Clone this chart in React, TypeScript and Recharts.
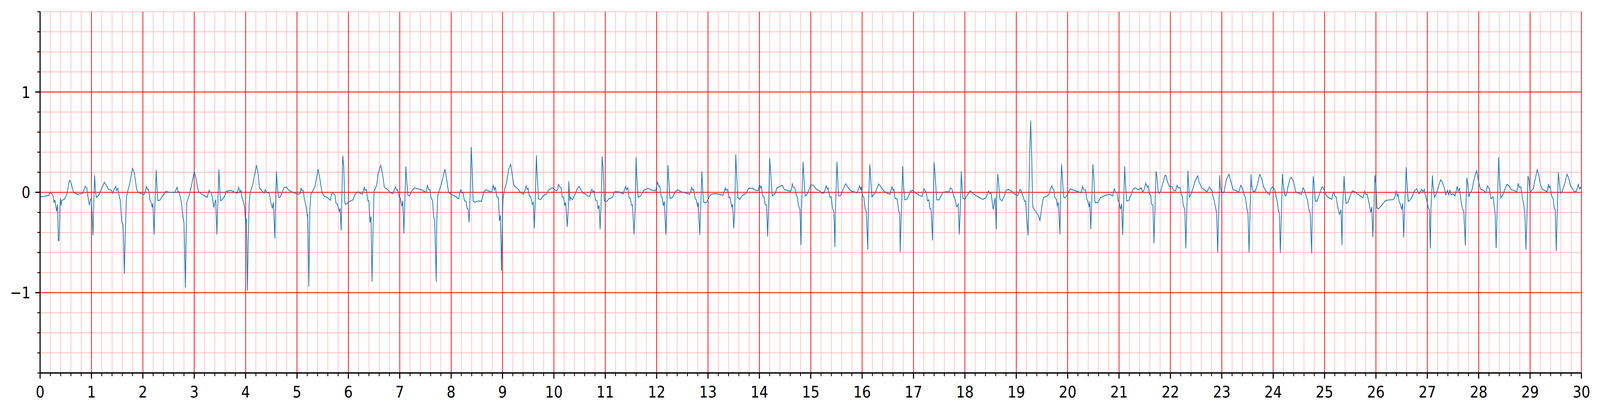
import { LineChart, Line, XAxis, YAxis, CartesianGrid } from 'recharts';

// ECG trace, [seconds, mV] in 5 s chunks
const ecg00to05: [number, number][] = [
  [0, -0.045], [0.08, -0.04], [0.17, -0.03], [0.19, 0.0], [0.22, -0.01], [0.25, -0.03], [0.27, -0.1], [0.29, -0.08],
  [0.32, -0.19], [0.34, -0.12], [0.355, -0.48], [0.37, -0.48], [0.385, -0.15], [0.395, -0.06], [0.41, -0.13], [0.42, -0.08],
  [0.47, -0.07], [0.52, -0.02], [0.57, 0.12], [0.6, 0.1], [0.65, 0.0], [0.73, -0.02], [0.83, -0.01], [0.88, 0.06],
  [0.91, 0.04], [0.93, -0.04], [0.96, -0.13], [0.98, -0.07], [1.0, -0.07], [1.03, -0.43], [1.045, -0.1], [1.06, 0.17],
  [1.08, 0.0], [1.095, -0.05], [1.14, -0.03], [1.19, 0.03], [1.25, 0.1], [1.29, 0.07], [1.33, 0.03], [1.39, 0.02],
  [1.41, -0.01], [1.44, 0.03], [1.47, 0.06], [1.49, 0.02], [1.51, 0.04], [1.53, -0.01], [1.56, -0.08], [1.59, -0.3],
  [1.615, -0.32], [1.64, -0.81], [1.655, -0.45], [1.68, -0.05], [1.7, 0.0], [1.74, 0.08], [1.8, 0.24], [1.83, 0.2],
  [1.88, 0.03], [1.91, 0.0], [2.0, -0.02], [2.03, -0.02], [2.07, 0.06], [2.09, 0.03], [2.11, 0.03], [2.14, -0.08],
  [2.16, -0.1], [2.18, -0.15], [2.195, -0.11], [2.22, -0.42], [2.235, -0.1], [2.26, 0.22], [2.275, 0.05], [2.29, -0.08],
  [2.33, -0.08], [2.38, -0.04], [2.45, 0.01], [2.51, 0.0], [2.58, 0.0], [2.62, 0.0], [2.665, 0.05], [2.68, 0.0],
  [2.7, 0.01], [2.73, -0.05], [2.75, -0.1], [2.78, -0.25], [2.8, -0.3], [2.83, -0.95], [2.84, -0.5], [2.855, -0.1],
  [2.89, -0.05], [2.94, 0.05], [3.0, 0.21], [3.03, 0.15], [3.08, 0.01], [3.15, -0.02], [3.25, -0.05], [3.29, 0.02],
  [3.31, 0.0], [3.33, 0.0], [3.36, -0.07], [3.38, -0.15], [3.4, -0.1], [3.42, -0.08], [3.44, -0.42], [3.46, -0.1],
  [3.48, 0.23], [3.495, 0.05], [3.51, -0.08], [3.53, -0.08], [3.59, -0.04], [3.62, 0.01], [3.72, 0.02], [3.79, 0.0],
  [3.835, -0.01], [3.865, 0.05], [3.89, 0.0], [3.91, 0.02], [3.93, -0.05], [3.96, -0.1], [3.98, -0.15], [4.0, -0.32],
  [4.015, -0.26], [4.035, -0.98], [4.05, -0.5], [4.07, -0.1], [4.09, 0.0], [4.14, 0.08], [4.21, 0.27], [4.24, 0.2],
  [4.27, 0.045], [4.31, 0.02], [4.36, -0.01], [4.38, 0.025], [4.41, 0.0], [4.46, -0.01], [4.48, -0.06], [4.49, -0.1],
  [4.52, -0.16], [4.54, -0.1], [4.57, -0.46], [4.58, -0.17], [4.6, 0.21], [4.62, 0.045], [4.64, -0.05], [4.67, -0.05],
  [4.7, -0.015], [4.75, 0.05], [4.8, 0.05], [4.83, 0.025], [4.9, 0.005], [4.96, -0.01],
];

const ecg05to10: [number, number][] = [
  [5.03, -0.02], [5.06, -0.01], [5.08, 0.045], [5.09, 0.02], [5.12, 0.02], [5.14, -0.055], [5.18, -0.15], [5.2, -0.24],
  [5.21, -0.22], [5.23, -0.94], [5.25, -0.17], [5.27, -0.02], [5.3, 0.01], [5.35, 0.06], [5.41, 0.23], [5.44, 0.15],
  [5.49, -0.01], [5.53, -0.035], [5.6, -0.055], [5.65, -0.08], [5.67, -0.02], [5.69, 0.0], [5.74, -0.03], [5.76, -0.11],
  [5.79, -0.12], [5.82, -0.19], [5.84, -0.16], [5.86, -0.38], [5.87, -0.12], [5.89, 0.365], [5.91, 0.26], [5.93, -0.1],
  [5.95, -0.12], [6.02, -0.09], [6.09, -0.075], [6.13, -0.02], [6.19, 0.005], [6.23, -0.01], [6.27, -0.02], [6.31, 0.055],
  [6.32, 0.02], [6.35, 0.03], [6.38, -0.085], [6.4, -0.085], [6.42, -0.3], [6.44, -0.24], [6.46, -0.89], [6.48, -0.37],
  [6.5, 0.01], [6.55, 0.07], [6.58, 0.19], [6.63, 0.27], [6.66, 0.2], [6.7, 0.05], [6.76, 0.03], [6.81, 0.0],
  [6.86, -0.015], [6.89, 0.02], [6.92, 0.055], [6.94, 0.02], [6.96, 0.025], [6.99, -0.05], [7.01, -0.055], [7.04, -0.14],
  [7.06, -0.085], [7.08, -0.41], [7.09, -0.24], [7.12, 0.26], [7.13, 0.15], [7.16, -0.03], [7.19, -0.035], [7.24, 0.02],
  [7.29, 0.045], [7.35, 0.035], [7.42, 0.025], [7.51, 0.0], [7.54, 0.07], [7.56, 0.03], [7.59, 0.025], [7.61, -0.055],
  [7.64, -0.085], [7.66, -0.25], [7.68, -0.28], [7.71, -0.89], [7.72, -0.3], [7.74, -0.035], [7.77, 0.02], [7.81, 0.085],
  [7.88, 0.23], [7.91, 0.14], [7.95, 0.0], [8.0, -0.02], [8.08, -0.04], [8.15, -0.065], [8.17, 0.005], [8.19, 0.025],
  [8.21, -0.005], [8.23, 0.0], [8.26, -0.085], [8.29, -0.09], [8.31, -0.16], [8.33, -0.165], [8.35, -0.3], [8.37, -0.035],
  [8.39, 0.45], [8.41, 0.23], [8.43, -0.085], [8.47, -0.1], [8.53, -0.085], [8.59, -0.09], [8.64, 0.01], [8.68, 0.025],
  [8.75, 0.01], [8.79, 0.0], [8.82, 0.07], [8.84, 0.025], [8.86, 0.05], [8.89, -0.045], [8.92, -0.05], [8.94, -0.285],
  [8.96, -0.23], [8.98, -0.78], [9.0, -0.22], [9.01, -0.065], [9.04, 0.03], [9.08, 0.1], [9.12, 0.23], [9.16, 0.28],
  [9.19, 0.17], [9.22, 0.07], [9.29, 0.04], [9.35, 0.0], [9.41, -0.02], [9.44, 0.03], [9.46, 0.065], [9.48, 0.03],
  [9.5, 0.04], [9.52, -0.035], [9.55, -0.045], [9.58, -0.12], [9.6, -0.1], [9.62, -0.36], [9.64, -0.035], [9.66, 0.37],
  [9.67, 0.23], [9.7, -0.065], [9.74, -0.075], [9.79, -0.035], [9.85, -0.02], [9.9, 0.025], [9.97, 0.045],
];

const ecg10to15: [number, number][] = [
  [10.04, 0.015], [10.07, 0.02], [10.09, 0.08], [10.12, 0.05], [10.14, 0.045], [10.16, -0.045], [10.19, -0.05], [10.21, -0.135],
  [10.23, -0.1], [10.26, -0.345], [10.28, -0.155], [10.29, 0.11], [10.31, -0.085], [10.32, -0.05], [10.36, -0.075], [10.4, -0.035],
  [10.45, 0.03], [10.49, 0.06], [10.52, 0.03], [10.57, -0.01], [10.61, -0.015], [10.65, -0.035], [10.7, -0.04], [10.72, 0.01],
  [10.74, 0.03], [10.76, 0.0], [10.78, 0.015], [10.81, -0.075], [10.84, -0.085], [10.86, -0.165], [10.88, -0.13], [10.9, -0.37],
  [10.92, -0.1], [10.94, 0.36], [10.96, 0.23], [10.98, -0.085], [11.03, -0.09], [11.07, -0.065], [11.14, -0.05], [11.18, 0.005],
  [11.26, 0.005], [11.35, -0.015], [11.38, 0.04], [11.4, 0.06], [11.41, 0.025], [11.44, 0.045], [11.46, -0.05], [11.49, -0.065],
  [11.51, -0.13], [11.53, -0.125], [11.56, -0.42], [11.58, -0.17], [11.6, 0.35], [11.61, 0.2], [11.64, -0.05], [11.69, -0.035],
  [11.75, 0.02], [11.83, 0.04], [11.91, 0.02], [11.98, 0.015], [12.0, 0.065], [12.02, 0.1], [12.04, 0.06], [12.06, 0.06],
  [12.09, -0.045], [12.11, -0.055], [12.13, -0.135], [12.15, -0.09], [12.18, -0.42], [12.2, -0.115], [12.22, 0.27], [12.23, 0.18],
  [12.26, -0.06], [12.31, -0.05], [12.36, 0.005], [12.41, 0.025], [12.48, 0.005], [12.56, -0.005], [12.64, -0.02], [12.67, 0.02],
  [12.68, 0.05], [12.7, 0.02], [12.72, 0.03], [12.75, -0.06], [12.77, -0.075], [12.8, -0.145], [12.81, -0.1], [12.84, -0.425],
  [12.86, -0.115], [12.88, 0.21], [12.89, 0.1], [12.91, -0.095], [12.96, -0.105], [13.0, -0.075], [13.03, -0.035], [13.09, -0.015],
  [13.18, -0.015], [13.29, -0.03], [13.32, 0.015], [13.34, 0.045], [13.35, 0.02], [13.38, 0.03], [13.41, -0.055], [13.43, -0.05],
  [13.46, -0.145], [13.48, -0.12], [13.5, -0.36], [13.52, -0.185], [13.54, 0.38], [13.55, 0.26], [13.58, -0.055], [13.62, -0.07],
  [13.67, -0.03], [13.74, -0.01], [13.79, 0.04], [13.87, 0.04], [13.94, 0.015], [13.98, 0.02], [14.0, 0.08], [14.02, 0.045],
  [14.04, 0.06], [14.06, -0.035], [14.09, -0.045], [14.11, -0.12], [14.14, -0.125], [14.16, -0.44], [14.18, -0.145], [14.2, 0.34],
  [14.22, 0.19], [14.25, -0.035], [14.31, -0.01], [14.34, 0.045], [14.39, 0.055], [14.44, 0.07], [14.49, 0.025], [14.55, 0.02],
  [14.6, 0.01], [14.62, 0.02], [14.64, 0.085], [14.66, 0.05], [14.69, 0.045], [14.72, -0.035], [14.74, -0.045], [14.76, -0.13],
  [14.79, -0.17], [14.81, -0.525], [14.82, -0.17], [14.85, 0.305], [14.86, 0.2], [14.89, -0.035], [14.92, -0.025], [14.96, 0.015],
];

const ecg15to20: [number, number][] = [
  [15.0, 0.075], [15.05, 0.07], [15.11, 0.03], [15.17, 0.015], [15.22, -0.01], [15.26, -0.005], [15.3, 0.065], [15.32, 0.035],
  [15.34, 0.045], [15.37, -0.05], [15.4, -0.045], [15.42, -0.15], [15.45, -0.2], [15.47, -0.545], [15.48, -0.17], [15.51, 0.305],
  [15.52, 0.18], [15.54, -0.035], [15.58, -0.035], [15.63, 0.03], [15.68, 0.085], [15.72, 0.05], [15.78, 0.015], [15.85, 0.005],
  [15.9, -0.005], [15.95, 0.065], [15.97, 0.025], [15.98, 0.055], [16.01, -0.035], [16.03, -0.045], [16.06, -0.17], [16.08, -0.19],
  [16.11, -0.57], [16.12, -0.17], [16.15, 0.28], [16.17, 0.1], [16.19, -0.045], [16.25, -0.01], [16.32, 0.085], [16.37, 0.05],
  [16.43, 0.01], [16.49, -0.01], [16.54, -0.02], [16.58, 0.055], [16.6, 0.02], [16.62, 0.03], [16.64, -0.06], [16.68, -0.065],
  [16.71, -0.18], [16.73, -0.21], [16.74, -0.595], [16.76, -0.24], [16.79, 0.26], [16.8, 0.1], [16.83, -0.075], [16.88, -0.065],
  [16.94, 0.01], [16.98, 0.02], [17.05, -0.01], [17.11, -0.03], [17.17, -0.04], [17.2, 0.035], [17.22, 0.02], [17.25, 0.0],
  [17.27, -0.085], [17.3, -0.075], [17.32, -0.165], [17.34, -0.165], [17.37, -0.48], [17.38, -0.17], [17.4, 0.3], [17.42, 0.18],
  [17.45, -0.075], [17.5, -0.075], [17.57, 0.0], [17.63, 0.005], [17.69, 0.005], [17.72, 0.045], [17.75, 0.03], [17.78, -0.035],
  [17.81, -0.07], [17.84, -0.145], [17.87, -0.12], [17.89, -0.42], [17.91, -0.17], [17.93, 0.21], [17.94, 0.1], [17.96, -0.06],
  [18.0, -0.07], [18.04, -0.035], [18.1, 0.015], [18.18, -0.02], [18.27, -0.05], [18.35, -0.07], [18.41, -0.055], [18.46, 0.015],
  [18.48, -0.01], [18.51, -0.01], [18.53, -0.09], [18.55, -0.17], [18.59, -0.055], [18.61, -0.37], [18.62, -0.035], [18.64, 0.185],
  [18.66, 0.07], [18.68, -0.065], [18.72, -0.085], [18.76, -0.045], [18.8, 0.02], [18.85, 0.03], [18.88, 0.02], [18.92, 0.005],
  [18.96, -0.015], [19.03, -0.035], [19.07, 0.03], [19.1, 0.01], [19.14, -0.055], [19.16, -0.09], [19.18, -0.085], [19.23, -0.43],
  [19.24, -0.17], [19.26, 0.365], [19.28, 0.715], [19.3, 0.365], [19.32, -0.145], [19.35, -0.17], [19.39, -0.2], [19.43, -0.23],
  [19.46, -0.28], [19.48, -0.21], [19.51, -0.1], [19.53, -0.05], [19.59, -0.04], [19.64, -0.02], [19.66, 0.03], [19.69, 0.065],
  [19.71, 0.035], [19.73, 0.03], [19.75, -0.05], [19.78, -0.07], [19.8, -0.135], [19.82, -0.1], [19.85, -0.42], [19.86, -0.115],
  [19.88, 0.28], [19.9, 0.125], [19.92, -0.045], [19.95, -0.055], [19.99, -0.025],
];

const ecg20to25: [number, number][] = [
  [20.05, 0.035], [20.12, 0.02], [20.19, 0.01], [20.26, -0.005], [20.29, 0.06], [20.31, 0.03], [20.35, 0.02], [20.37, -0.065],
  [20.39, -0.085], [20.42, -0.145], [20.43, -0.09], [20.45, -0.37], [20.47, -0.065], [20.49, 0.28], [20.51, 0.15], [20.53, -0.1],
  [20.58, -0.105], [20.64, -0.055], [20.73, -0.03], [20.81, -0.02], [20.88, -0.035], [20.89, 0.01], [20.91, 0.035], [20.93, 0.0],
  [20.96, 0.0], [20.98, -0.085], [21.0, -0.095], [21.03, -0.17], [21.05, -0.115], [21.07, -0.425], [21.09, -0.1], [21.11, 0.26],
  [21.12, 0.125], [21.15, -0.085], [21.19, -0.08], [21.23, -0.03], [21.27, 0.03], [21.32, 0.045], [21.37, 0.025], [21.43, 0.045],
  [21.46, 0.0], [21.49, 0.03], [21.52, 0.09], [21.55, 0.05], [21.57, 0.065], [21.59, -0.01], [21.62, -0.035], [21.63, -0.115],
  [21.66, -0.13], [21.68, -0.51], [21.7, -0.145], [21.72, 0.21], [21.74, 0.15], [21.76, 0.015], [21.78, -0.01], [21.81, 0.005],
  [21.83, 0.05], [21.85, 0.085], [21.89, 0.165], [21.91, 0.17], [21.94, 0.11], [21.98, 0.055], [22.03, 0.06], [22.06, 0.02],
  [22.1, 0.015], [22.13, 0.07], [22.15, 0.045], [22.19, 0.045], [22.21, -0.02], [22.23, -0.035], [22.25, -0.13], [22.28, -0.17],
  [22.3, -0.56], [22.32, -0.17], [22.34, 0.215], [22.35, 0.125], [22.37, -0.045], [22.4, -0.02], [22.43, 0.025], [22.48, 0.11],
  [22.53, 0.165], [22.56, 0.1], [22.61, 0.045], [22.66, 0.025], [22.71, 0.005], [22.76, 0.055], [22.79, 0.03], [22.81, 0.02],
  [22.83, -0.045], [22.85, -0.075], [22.88, -0.155], [22.9, -0.205], [22.92, -0.6], [22.94, -0.2], [22.96, 0.17], [22.97, 0.07],
  [22.99, 0.0], [23.04, -0.005], [23.09, 0.13], [23.14, 0.18], [23.19, 0.085], [23.22, 0.025], [23.27, 0.02], [23.33, 0.0],
  [23.37, 0.07], [23.41, 0.03], [23.44, -0.035], [23.46, -0.05], [23.48, -0.135], [23.51, -0.21], [23.53, -0.6], [23.55, -0.2],
  [23.57, 0.18], [23.58, 0.07], [23.61, 0.01], [23.65, 0.01], [23.69, 0.07], [23.74, 0.18], [23.78, 0.13], [23.81, 0.06],
  [23.86, 0.01], [23.93, -0.025], [23.96, 0.04], [23.99, 0.055], [24.03, 0.025], [24.06, -0.05], [24.08, -0.09], [24.1, -0.175],
  [24.12, -0.21], [24.14, -0.605], [24.16, -0.2], [24.18, 0.185], [24.19, 0.1], [24.23, -0.035], [24.26, -0.025], [24.29, 0.06],
  [24.33, 0.14], [24.36, 0.15], [24.4, 0.1], [24.44, 0.005], [24.5, -0.01], [24.55, -0.02], [24.58, 0.045], [24.61, 0.02],
  [24.65, -0.05], [24.67, -0.085], [24.7, -0.185], [24.72, -0.205], [24.75, -0.61], [24.76, -0.22], [24.78, 0.16], [24.8, 0.06],
  [24.82, -0.085], [24.85, -0.09], [24.9, -0.02], [24.95, 0.055], [24.98, 0.04],
];

const ecg25to30: [number, number][] = [
  [25.02, -0.02], [25.07, -0.05], [25.14, -0.07], [25.16, -0.02], [25.18, 0.0], [25.2, -0.035], [25.23, -0.05], [25.25, -0.13],
  [25.29, -0.22], [25.32, -0.175], [25.34, -0.525], [25.35, -0.17], [25.38, 0.16], [25.39, 0.045], [25.42, -0.11], [25.46, -0.095],
  [25.5, -0.035], [25.54, 0.015], [25.59, 0.005], [25.65, -0.02], [25.72, -0.045], [25.75, -0.055], [25.78, 0.01], [25.8, -0.02],
  [25.83, -0.02], [25.87, -0.12], [25.9, -0.2], [25.92, -0.145], [25.94, -0.445], [25.96, -0.17], [25.98, 0.17], [26.0, 0.07],
  [26.02, -0.155], [26.05, -0.165], [26.11, -0.13], [26.18, -0.085], [26.25, -0.075], [26.32, -0.075], [26.35, -0.065], [26.37, -0.045],
  [26.39, 0.01], [26.42, -0.035], [26.43, -0.015], [26.45, -0.09], [26.47, -0.11], [26.5, -0.17], [26.52, -0.11], [26.54, -0.45],
  [26.56, -0.145], [26.59, 0.25], [26.6, 0.125], [26.63, -0.09], [26.67, -0.075], [26.72, -0.025], [26.75, 0.015], [26.79, 0.035],
  [26.84, -0.015], [26.89, 0.03], [26.92, 0.005], [26.94, 0.03], [26.96, -0.025], [26.99, -0.085], [27.02, -0.155], [27.04, -0.17],
  [27.06, -0.56], [27.07, -0.17], [27.1, 0.17], [27.11, 0.07], [27.14, -0.05], [27.16, -0.025], [27.2, 0.02], [27.23, 0.08],
  [27.26, 0.125], [27.29, 0.105], [27.33, 0.045], [27.36, -0.025], [27.39, 0.02], [27.42, -0.025], [27.44, 0.025], [27.46, -0.025],
  [27.5, -0.015], [27.54, -0.035], [27.57, 0.03], [27.58, 0.06], [27.6, 0.01], [27.63, 0.04], [27.65, -0.065], [27.67, -0.13],
  [27.7, -0.185], [27.71, -0.19], [27.74, -0.53], [27.75, -0.17], [27.77, 0.145], [27.79, 0.07], [27.81, -0.045], [27.83, -0.01],
  [27.87, 0.025], [27.9, 0.105], [27.94, 0.19], [27.96, 0.215], [28.0, 0.1], [28.04, 0.03], [28.08, 0.025], [28.14, -0.005],
  [28.17, 0.065], [28.21, 0.03], [28.24, -0.065], [28.28, -0.045], [28.3, -0.13], [28.32, -0.21], [28.34, -0.555], [28.36, -0.17],
  [28.39, 0.35], [28.4, 0.2], [28.43, -0.055], [28.47, -0.025], [28.51, 0.03], [28.55, 0.08], [28.59, 0.065], [28.64, 0.025],
  [28.71, 0.015], [28.74, 0.0], [28.77, 0.09], [28.79, 0.05], [28.82, 0.055], [28.85, -0.05], [28.88, -0.135], [28.9, -0.225],
  [28.92, -0.57], [28.94, -0.22], [28.96, 0.165], [28.98, 0.125], [29.0, 0.0], [29.03, 0.02], [29.06, 0.03], [29.09, 0.11],
  [29.14, 0.225], [29.17, 0.17], [29.2, 0.08], [29.24, 0.03], [29.3, 0.015], [29.33, 0.005], [29.36, 0.085], [29.37, 0.045],
  [29.39, 0.06], [29.42, -0.035], [29.45, -0.065], [29.47, -0.155], [29.49, -0.17], [29.51, -0.585], [29.53, -0.17], [29.55, 0.2],
  [29.57, 0.1], [29.59, -0.01], [29.63, 0.01], [29.67, 0.08], [29.72, 0.18], [29.75, 0.145], [29.79, 0.06], [29.83, 0.035],
  [29.86, 0.005], [29.9, 0.01], [29.94, 0.08], [29.96, 0.035], [29.98, 0.05], [30.0, 0.03],
];

// axis ticks: minor every 0.2, labelled / major on whole numbers
const xTicks = Array.from({ length: 151 }, (_, i) => Math.round(i * 2) / 10);
const xMajor = Array.from({ length: 31 }, (_, i) => i);
const yTicks = Array.from({ length: 19 }, (_, i) => Math.round(i * 2 - 18) / 10);
const yMajor = [-1, 0, 1];

const data = [...ecg00to05, ...ecg05to10, ...ecg10to15, ...ecg15to20, ...ecg20to25, ...ecg25to30].map(
  ([t, mv]) => ({ t, mv })
);

const W = 4827;
const H = 1055;
const FONT = '"DejaVu Sans", sans-serif';
const FONT_SIZE = 41.7;
const TICK = 14.6;
const TICK_MINOR = 8.3;
const PAD = 14.6;

const isWhole = (v: number) => Math.abs(v - Math.round(v)) < 1e-6;
const fmt = (v: number) => (v < 0 ? `\u2212${Math.abs(Math.round(v))}` : `${Math.round(v)}`);

function XTick(props: any) {
  const { x, y, payload } = props;
  const whole = isWhole(payload.value);
  const axisY = y - TICK - PAD;
  return (
    <g>
      <line x1={x} x2={x} y1={axisY} y2={axisY + (whole ? TICK : TICK_MINOR)} stroke="#000" strokeWidth={whole ? 3.3 : 2.5} />
      {whole && (
        <text x={x} y={axisY + 63} textAnchor="middle" fontFamily={FONT} fontSize={FONT_SIZE} fill="#000">
          {fmt(payload.value)}
        </text>
      )}
    </g>
  );
}

function YTick(props: any) {
  const { x, y, payload } = props;
  const whole = isWhole(payload.value);
  const axisX = x + TICK + PAD;
  return (
    <g>
      <line x1={axisX - (whole ? TICK : TICK_MINOR)} x2={axisX} y1={y} y2={y} stroke="#000" strokeWidth={whole ? 3.3 : 2.5} />
      {whole && (
        <text x={x} y={y + 15} textAnchor="end" fontFamily={FONT} fontSize={FONT_SIZE} fill="#000">
          {fmt(payload.value)}
        </text>
      )}
    </g>
  );
}

export default function App() {
  // the viewport may come out smaller than the requested size; squeeze to fit it
  const sx = typeof window !== 'undefined' && window.innerWidth > 0 ? Math.min(1, window.innerWidth / W) : 1;
  const sy = typeof window !== 'undefined' && window.innerHeight > 0 ? Math.min(1, window.innerHeight / H) : 1;
  return (
    <div style={{ width: W * sx, height: H * sy, overflow: 'hidden', background: '#fff' }}>
      <style>{'body{margin:0;overflow:hidden;}'}</style>
      <div style={{ width: W, height: H, transform: `scale(${sx}, ${sy})`, transformOrigin: '0 0' }}>
        <LineChart width={W} height={H} data={data} margin={{ top: 30, right: 56, bottom: 0, left: 0 }}>
          <CartesianGrid verticalValues={xTicks} horizontalValues={yTicks} stroke="#ffb3b3" strokeWidth={1.7} />
          <CartesianGrid verticalValues={xMajor} horizontalValues={yMajor} stroke="#ff0000" strokeWidth={2.1} />
          <XAxis
            dataKey="t"
            type="number"
            domain={[0, 30]}
            ticks={xTicks}
            interval={0}
            height={100}
            tickSize={TICK}
            tickMargin={PAD}
            tickLine={false}
            tick={<XTick />}
            axisLine={{ stroke: '#000', strokeWidth: 3.3 }}
            allowDataOverflow
          />
          <XAxis xAxisId="top" orientation="top" dataKey="t" type="number" domain={[0, 30]} height={0} tick={false} tickLine={false} axisLine={{ stroke: '#000', strokeWidth: 3.3 }} />
          <YAxis
            type="number"
            domain={[-1.8, 1.8]}
            ticks={yTicks}
            interval={0}
            width={121}
            tickSize={TICK}
            tickMargin={PAD}
            tickLine={false}
            tick={<YTick />}
            axisLine={{ stroke: '#000', strokeWidth: 3.3 }}
            allowDataOverflow
          />
          <YAxis yAxisId="right" orientation="right" type="number" domain={[-1.8, 1.8]} width={0} tick={false} tickLine={false} axisLine={{ stroke: '#000', strokeWidth: 3.3 }} />
          <Line type="linear" dataKey="mv" stroke="#1f77b4" strokeWidth={2.2} dot={false} activeDot={false} isAnimationActive={false} />
        </LineChart>
      </div>
    </div>
  );
}
